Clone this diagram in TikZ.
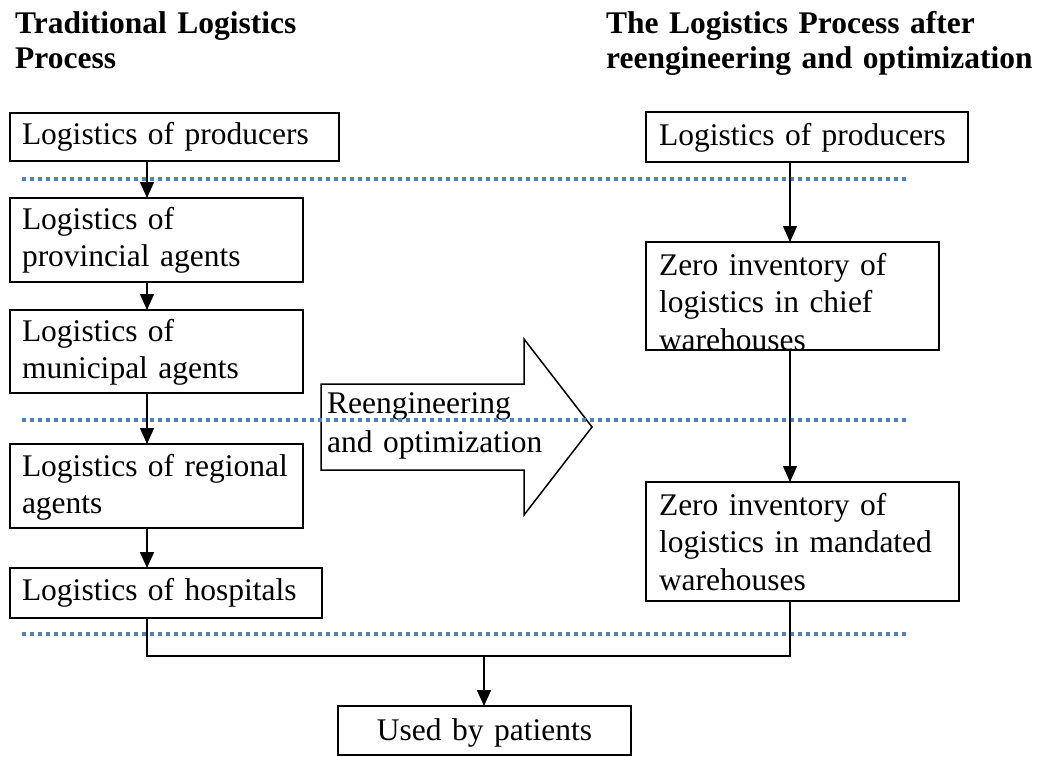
\documentclass[tikz,border=0pt]{standalone}
\usepackage{fontspec}
\setmainfont{Liberation Serif}
\usetikzlibrary{arrows.meta}
\newcommand\bodyfont{\fontsize{31.5}{37.5}\selectfont}
\newcommand\headfont{\fontsize{31.5}{35}\selectfont\bfseries}
\definecolor{sepblue}{HTML}{4F81BD}
\begin{document}
\begin{tikzpicture}[x=1pt,y=-1pt,
  stagebox/.style={draw, line width=1.5pt, rectangle, inner xsep=12pt, inner ysep=0pt,
    outer sep=0pt, align=left, font=\bodyfont, anchor=north west},
  heading/.style={anchor=base west, inner sep=0pt, align=left, font=\headfont, text width=440pt},
  flow/.style={line width=1.5pt, -{Triangle[length=16pt,width=14pt]}},
  link/.style={line width=1.5pt},
  separator/.style={sepblue, line width=3.5pt, dash pattern=on 4pt off 4pt}]
\useasboundingbox (0,0) rectangle (1037,756);

% headings
\node[heading] (lefthead) at (15,33) {Traditional Logistics\\Process};
\node[heading] (righthead) at (606,33) {The Logistics Process after\\reengineering and optimization};

% traditional chain
\node[stagebox, text width=305pt, text height=31pt, text depth=17pt] (b1) at (10,113) {Logistics of producers};
\node[stagebox, text width=269pt, text height=31pt, text depth=53pt] (b2) at (10,198) {Logistics of\\provincial agents};
\node[stagebox, text width=269pt, text height=31pt, text depth=52pt] (b3) at (10,310) {Logistics of\\municipal agents};
\node[stagebox, text width=269pt, text height=32pt, text depth=52pt] (b4) at (10,444) {Logistics of regional\\agents};
\node[stagebox, text width=288pt, text height=32pt, text depth=18pt] (b5) at (10,568) {Logistics of hospitals};

% reengineered chain
\node[stagebox, inner xsep=13pt, text width=296pt, text height=33pt, text depth=17pt] (r1) at (646,112) {Logistics of producers};
\node[stagebox, inner xsep=13pt, text width=267pt, text height=33pt, text depth=75pt] (r2) at (646,242) {Zero inventory of\\logistics in chief\\warehouses};
\node[stagebox, inner xsep=13pt, text width=287pt, text height=33pt, text depth=86pt] (r3) at (646,482) {Zero inventory of\\logistics in mandated\\warehouses};

% final consumer
\node[stagebox, align=center, text width=269pt, text height=34pt, text depth=15pt] (used) at (338,706) {Used by patients};

% big transition arrow
\draw[line width=1.5pt, line join=miter, fill=white]
  (321,384) -- (524,384) -- (524,339) -- (592,427) -- (524,515) -- (524,470) -- (321,470) -- cycle;
\node[anchor=base west, inner sep=0pt, align=left, text width=260pt,
  font=\fontsize{31.5}{39}\selectfont] (reeng) at (327,413) {Reengineering\\and optimization};

% stage separators
\draw[separator] (22,179) -- (906,179);
\draw[separator] (22,420) -- (906,420);
\draw[separator] (22,634) -- (906,634);

% connector axes
\coordinate (lx) at (147,0);
\coordinate (rx) at (790,0);
\coordinate (jl) at (147,656);
\coordinate (jr) at (790,656);
\coordinate (jm) at (484,656);

\draw[flow] (b1.south -| lx) -- (b2.north -| lx);
\draw[flow] (b2.south -| lx) -- (b3.north -| lx);
\draw[flow] (b3.south -| lx) -- (b4.north -| lx);
\draw[flow] (b4.south -| lx) -- (b5.north -| lx);

\draw[flow] (r1.south -| rx) -- (r2.north -| rx);
\draw[flow] (r2.south -| rx) -- (r3.north -| rx);

\draw[link] (b5.south -| lx) -- (jl) -- (jr) -- (r3.south -| rx);
\draw[flow] (jm) -- (used.north -| jm);
\end{tikzpicture}
\end{document}
